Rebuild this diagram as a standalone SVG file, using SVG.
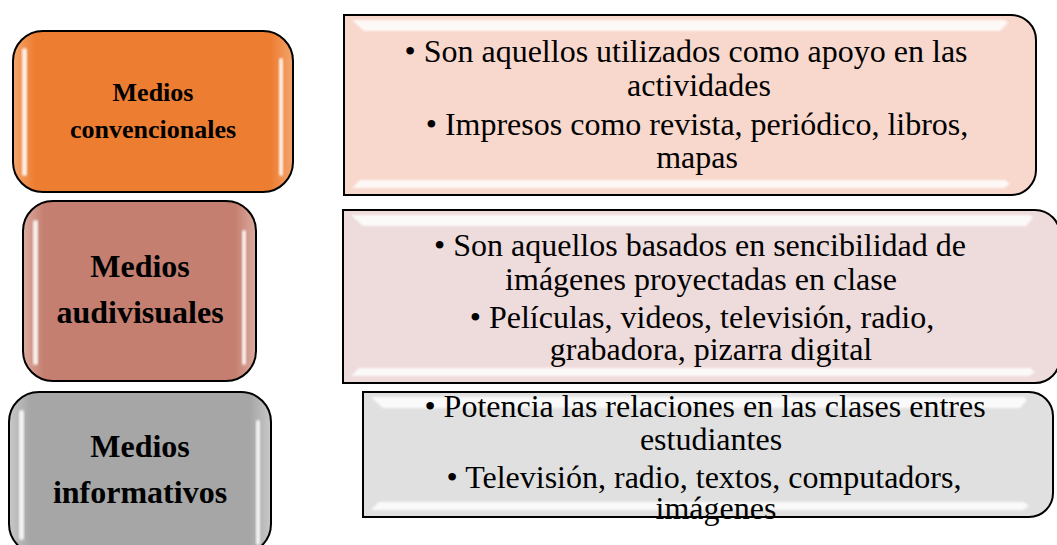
<svg xmlns="http://www.w3.org/2000/svg" width="1057" height="545" viewBox="0 0 1057 545">
<style>
.lbl{font-family:"Liberation Serif","Times New Roman",serif;font-weight:bold;fill:#000;text-anchor:middle}
.txt{font-family:"Liberation Serif","Times New Roman",serif;font-size:32px;fill:#000;text-anchor:middle}
.edge{stroke:#000;stroke-width:2}
.hl{fill:#fff;opacity:0.85;filter:url(#blur)}
</style>
<defs>
<filter id="blur" x="-20%" y="-20%" width="140%" height="140%"><feGaussianBlur stdDeviation="1.2"/></filter>
<linearGradient id="gOr" x1="0" y1="0" x2="1" y2="0">
<stop offset="0" stop-color="#f3a56e"/><stop offset="0.08" stop-color="#ed7d31"/><stop offset="0.92" stop-color="#ed7d31"/><stop offset="1" stop-color="#f3a56e"/>
</linearGradient>
<linearGradient id="gRo" x1="0" y1="0" x2="1" y2="0">
<stop offset="0" stop-color="#dcaba0"/><stop offset="0.09" stop-color="#c47f70"/><stop offset="0.91" stop-color="#c47f70"/><stop offset="1" stop-color="#dcaba0"/>
</linearGradient>
<linearGradient id="gGr" x1="0" y1="0" x2="1" y2="0">
<stop offset="0" stop-color="#c8c8c8"/><stop offset="0.08" stop-color="#a6a6a6"/><stop offset="0.92" stop-color="#a6a6a6"/><stop offset="1" stop-color="#c8c8c8"/>
</linearGradient>
</defs>

<g id="connectors"></g>

<g id="n-convencionales">
<rect x="13" y="31" width="280" height="161" rx="30" fill="url(#gOr)" class="edge"/>
<rect x="22" y="48" width="5" height="128" rx="2.5" class="hl"/>
<rect x="279" y="58" width="4" height="118" rx="2" class="hl"/>
<text class="lbl" font-size="26" x="153" y="101">Medios</text>
<text class="lbl" font-size="26" x="153" y="138">convencionales</text>
</g>

<g id="n-audivisuales">
<rect x="23" y="201" width="233" height="180" rx="30" fill="url(#gRo)" class="edge"/>
<rect x="33" y="220" width="5" height="145" rx="2.5" class="hl"/>
<rect x="242" y="230" width="4" height="135" rx="2" class="hl"/>
<text class="lbl" font-size="32" x="140" y="277">Medios</text>
<text class="lbl" font-size="32" x="140" y="323">audivisuales</text>
</g>

<g id="n-informativos">
<rect x="9" y="392" width="262" height="162" rx="30" fill="url(#gGr)" class="edge"/>
<rect x="19" y="410" width="5" height="130" rx="2.5" class="hl"/>
<rect x="256" y="420" width="4" height="125" rx="2" class="hl"/>
<text class="lbl" font-size="32" x="140" y="457">Medios</text>
<text class="lbl" font-size="32" x="140" y="503">informativos</text>
</g>

<g id="d-convencionales">
<path d="M344 15 H1011 A25 25 0 0 1 1036 40 V170 A25 25 0 0 1 1011 195 H344 Z" fill="#f8d7cc" class="edge"/>
<path d="M352 20 H1005 L1008 23 L1000 31 H364 Z" class="hl"/>
<path d="M360 180 H1005 L1010 184 L1004 188 H352 Z" class="hl"/>
<text class="txt" x="686" y="62">• Son aquellos utilizados como apoyo en las</text>
<text class="txt" x="699" y="96">actividades</text>
<text class="txt" x="697" y="135">• Impresos como revista, periódico, libros,</text>
<text class="txt" x="697" y="168">mapas</text>
</g>

<g id="d-audivisuales">
<path d="M343 210 H1035 A25 25 0 0 1 1060 235 V358 A25 25 0 0 1 1035 383 H343 Z" fill="#eedbdb" class="edge"/>
<path d="M351 215 H1030 L1033 218 L1026 226 H363 Z" class="hl"/>
<path d="M359 368 H1030 L1035 372 L1029 376 H351 Z" class="hl"/>
<text class="txt" x="700" y="256">• Son aquellos basados en sencibilidad de</text>
<text class="txt" x="701" y="290">imágenes proyectadas en clase</text>
<text class="txt" x="702" y="328">• Películas, videos, televisión, radio,</text>
<text class="txt" x="711" y="360">grabadora, pizarra digital</text>
</g>

<g id="d-informativos">
<path d="M363 392 H1029 A24 24 0 0 1 1053 416 V493 A24 24 0 0 1 1029 517 H363 Z" fill="#e0e0e0" class="edge"/>
<path d="M371 397 H1024 L1027 400 L1020 408 H383 Z" class="hl"/>
<path d="M379 502 H1024 L1029 506 L1023 510 H371 Z" class="hl"/>
<text class="txt" x="705" y="417">• Potencia las relaciones en las clases entres</text>
<text class="txt" x="711" y="450">estudiantes</text>
<text class="txt" x="704" y="488">• Televisión, radio, textos, computadors,</text>
<text class="txt" x="716" y="519">imágenes</text>
</g>
</svg>
